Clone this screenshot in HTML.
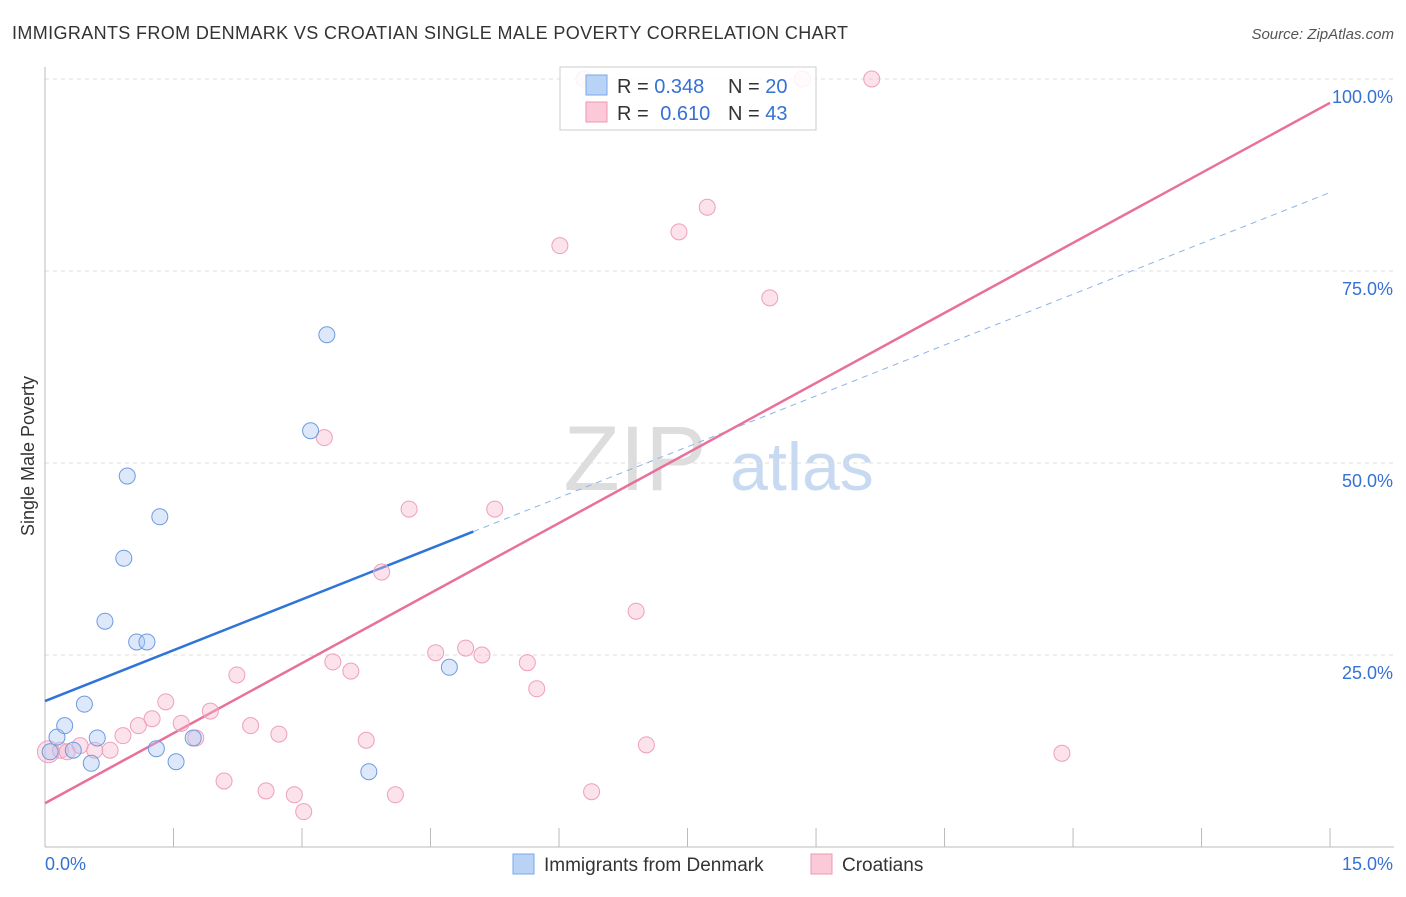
<!DOCTYPE html>
<html><head><meta charset="utf-8"><style>
body{margin:0;background:#fff;font-family:"Liberation Sans",sans-serif}
svg text{font-family:"Liberation Sans",sans-serif}
</style></head><body>
<svg id="chart" width="1406" height="892">
<text x="12" y="39" font-size="18" fill="#333" textLength="836">IMMIGRANTS FROM DENMARK VS CROATIAN SINGLE MALE POVERTY CORRELATION CHART</text>
<text x="1394" y="39" font-size="15" fill="#555" font-style="italic" text-anchor="end">Source: ZipAtlas.com</text>
<text x="34" y="456" font-size="18" fill="#333" transform="rotate(-90 34 456)" text-anchor="middle">Single Male Poverty</text>
<g id="watermark">
<text x="635" y="490" font-size="92" fill="#ddd" font-family="Liberation Serif" text-anchor="middle">ZIP</text>
<text x="802" y="490" font-size="68" fill="#c8daf2" text-anchor="middle">atlas</text>
</g>
<g id="grid"></g><g id="axes"></g><g id="trends"></g><g id="points"></g>
<g>
<rect x="560" y="67" width="256" height="63" fill="rgba(255,255,255,0.85)" stroke="#ccc"/>
<rect x="586" y="75" width="21" height="20" fill="#b9d3f7" stroke="#7aa7e8"/>
<rect x="586" y="102" width="21" height="20" fill="#fbc9d8" stroke="#ee97b2"/>
<text x="617" y="93" font-size="20" fill="#333">R = <tspan fill="#3571d4">0.348</tspan><tspan x="728">N = </tspan><tspan fill="#3571d4">20</tspan></text>
<text x="617" y="120" font-size="20" fill="#333">R = <tspan fill="#3571d4" dx="6">0.610</tspan><tspan x="728">N = </tspan><tspan fill="#3571d4">43</tspan></text>
</g>
<g>
<rect x="513" y="854" width="21" height="20" fill="#b9d3f7" stroke="#7aa7e8"/>
<text x="544" y="871" font-size="19" fill="#333">Immigrants from Denmark</text>
<rect x="811" y="854" width="21" height="20" fill="#fbc9d8" stroke="#ee97b2"/>
<text x="842" y="871" font-size="19" fill="#333">Croatians</text>
</g>
</svg>
<script>
const yTicks=[25,50,75,100];
const yTickLabels=["25.0%","50.0%","75.0%","100.0%"];
const xTicks=[0,1.5,3,4.5,6,7.5,9,10.5,12,13.5,15];
const denmarkX=[0.06,0.14,0.23,0.33,0.46,0.54,0.61,0.70,0.92,0.96,1.07,1.19,1.30,1.34,1.53,1.73,3.10,3.29,3.78,4.72];
const denmarkY=[12.4,14.3,15.8,12.6,18.6,10.9,14.2,29.4,37.6,48.3,26.7,26.7,12.8,43.0,11.1,14.2,54.2,66.7,9.8,23.4];
const croatX=[0.04,0.18,0.26,0.41,0.58,0.76,0.91,1.09,1.25,1.41,1.59,1.76,1.93,2.09,2.24,2.40,2.58,2.73,2.91,3.02,3.26,3.36,3.57,3.75,3.93,4.09,4.25,4.56,4.91,5.10,5.25,5.63,5.74,6.01,6.29,6.38,6.90,7.02,7.40,7.73,8.46,8.84,9.65,11.87];
const croatY=[12.4,12.6,12.4,13.2,12.6,12.6,14.5,15.8,16.7,18.9,16.1,14.2,17.7,8.6,22.4,15.8,7.3,14.7,6.8,4.6,53.3,24.1,22.9,13.9,35.8,6.8,44.0,25.3,25.9,25.0,44.0,24.0,20.6,78.3,100,7.2,30.7,13.3,80.1,83.3,71.5,100,100,12.2];
const denmarkTrend=[19.0,4.415];   // intercept, slope
const croatTrend=[5.7,6.08];
const denmarkSolidEnd=5.0;
const sx=v=>45+v*85.67, sy=v=>847-v*7.68;
const NS="http://www.w3.org/2000/svg";
function mk(p,t,a){const e=document.createElementNS(NS,t);for(const k in a)e.setAttribute(k,a[k]);document.getElementById(p).appendChild(e);return e;}
yTicks.forEach((t,i)=>{
 const l=mk('grid','line',{x1:45,x2:1394,y1:sy(t),y2:sy(t),stroke:'#ddd','stroke-dasharray':'4,4'});
 
 
 const tx=mk('axes','text',{x:1393,y:sy(t)+24,'font-size':18,fill:'#3571d4','text-anchor':'end'});
 tx.textContent=yTickLabels[i];
 
 
});
const ya=mk('axes','line',{x1:45,x2:45,y1:67,y2:847,stroke:'#bbb'});


const xa=mk('axes','line',{x1:45,x2:1394,y1:847,y2:847,stroke:'#bbb'});


xTicks.forEach(t=>{const l=mk('axes','line',{x1:sx(t),x2:sx(t),y1:828,y2:847,stroke:'#bbb'});
 
 });
let t1=mk('axes','text',{x:45,y:870,'font-size':18,fill:'#3571d4'});t1.textContent='0.0%';


let t2=mk('axes','text',{x:1393,y:870,'font-size':18,fill:'#3571d4','text-anchor':'end'});t2.textContent='15.0%';


const ty=(tr,x)=>tr[0]+tr[1]*x;
let b1=mk('trends','line',{x1:sx(0),y1:sy(ty(denmarkTrend,0)),x2:sx(denmarkSolidEnd),y2:sy(ty(denmarkTrend,denmarkSolidEnd)),stroke:'#2f74d8','stroke-width':2.5});


let b2=mk('trends','line',{x1:sx(denmarkSolidEnd),y1:sy(ty(denmarkTrend,denmarkSolidEnd)),x2:sx(15),y2:sy(ty(denmarkTrend,15)),stroke:'#8cb3e8','stroke-width':1,'stroke-dasharray':'6,5'});


let p1=mk('trends','line',{x1:sx(0),y1:sy(ty(croatTrend,0)),x2:sx(15),y2:sy(ty(croatTrend,15)),stroke:'#e8709a','stroke-width':2.5});


croatX.forEach((x,i)=>{const c=mk('points','circle',{cx:sx(x),cy:sy(croatY[i]),r:i==0?11:8,fill:'rgba(248,182,204,0.4)',stroke:'#eea0b9','stroke-width':1});
 
 });
denmarkX.forEach((x,i)=>{const c=mk('points','circle',{cx:sx(x),cy:sy(denmarkY[i]),r:8,fill:'rgba(170,200,245,0.4)',stroke:'#6d9be0','stroke-width':1});
 
 });
</script>
</body></html>
